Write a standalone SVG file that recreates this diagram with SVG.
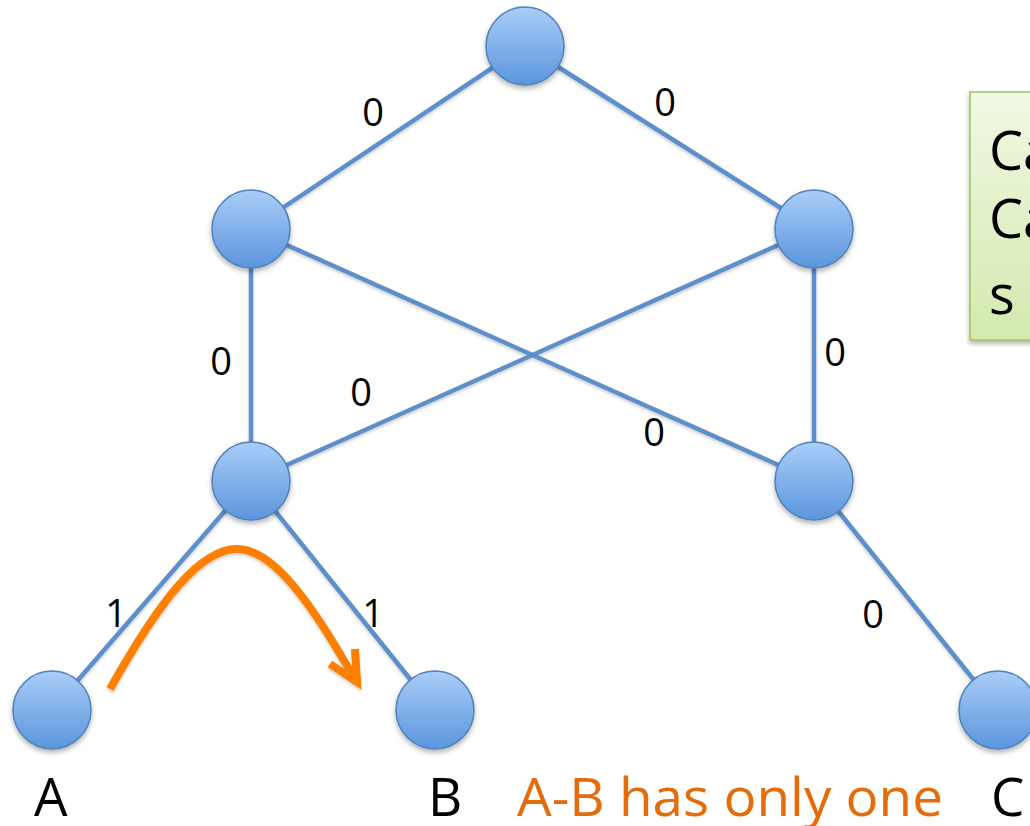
<svg xmlns="http://www.w3.org/2000/svg" width="1030" height="826" viewBox="0 0 1030 826">
<style>
.edge{stroke:#5b8fcb;stroke-width:4.5;fill:none}
.node{fill:url(#ng);stroke:#4f81bd;stroke-width:1.5;filter:url(#sh)}
.lbl{font-family:"Open Sans","Liberation Sans",sans-serif;font-size:38px;fill:#000;text-anchor:middle}
.big{font-family:"Open Sans","Liberation Sans",sans-serif;font-size:53px;fill:#000}
.note{font-family:"Open Sans","Liberation Sans",sans-serif;font-size:54px;fill:#000}
</style>
<defs>
<linearGradient id="ng" x1="0" y1="0" x2="0" y2="1">
<stop offset="0" stop-color="#a9cdf8"/>
<stop offset="1" stop-color="#5b95dc"/>
</linearGradient>
<linearGradient id="gg" x1="0" y1="0" x2="0" y2="1">
<stop offset="0" stop-color="#f1f8e4"/>
<stop offset="1" stop-color="#d3e9ae"/>
</linearGradient>
<filter id="sh" x="-30%" y="-30%" width="160%" height="170%">
<feDropShadow dx="0" dy="3" stdDeviation="2.5" flood-color="#000" flood-opacity="0.3"/>
</filter>
<filter id="ls" x="-10%" y="-10%" width="120%" height="130%">
<feDropShadow dx="0" dy="2" stdDeviation="1.5" flood-color="#000" flood-opacity="0.2"/>
</filter>
</defs>
<g id="note" filter="url(#sh)">
<rect x="970" y="92" width="80" height="248" fill="url(#gg)" stroke="#9fc266" stroke-width="1.5"/>
</g>
<g id="note-text">
<text class="note" x="989" y="170">Ca</text>
<text class="note" x="989" y="238">Ca</text>
<text class="note" x="989" y="314">s</text>
</g>
<g id="connectors" filter="url(#ls)">
<line class="edge" x1="525" y1="46" x2="251" y2="229"/>
<line class="edge" x1="525" y1="46" x2="814" y2="229"/>
<line class="edge" x1="251" y1="229" x2="251" y2="481"/>
<line class="edge" x1="814" y1="229" x2="814" y2="481"/>
<line class="edge" x1="251" y1="229" x2="814" y2="481"/>
<line class="edge" x1="814" y1="229" x2="251" y2="481"/>
<line class="edge" x1="251" y1="481" x2="52" y2="710"/>
<line class="edge" x1="251" y1="481" x2="435" y2="710"/>
<line class="edge" x1="814" y1="481" x2="998" y2="710"/>
</g>
<g id="edge-labels">
<text class="lbl" x="373" y="126">0</text>
<text class="lbl" x="665" y="116">0</text>
<text class="lbl" x="221" y="375">0</text>
<text class="lbl" x="361" y="406">0</text>
<text class="lbl" x="835" y="366">0</text>
<text class="lbl" x="654" y="446">0</text>
<text class="lbl" x="873" y="628">0</text>
<text class="lbl" x="116" y="627">1</text>
<text class="lbl" x="373" y="627">1</text>
</g>
<g id="n-top"><circle class="node" cx="525" cy="46" r="39"/></g>
<g id="n-midleft"><circle class="node" cx="251" cy="229" r="39"/></g>
<g id="n-midright"><circle class="node" cx="814" cy="229" r="39"/></g>
<g id="n-lowleft"><circle class="node" cx="251" cy="481" r="39"/></g>
<g id="n-lowright"><circle class="node" cx="814" cy="481" r="39"/></g>
<g id="n-A"><circle class="node" cx="52" cy="710" r="39"/><text class="big" x="34" y="816">A</text></g>
<g id="n-B"><circle class="node" cx="435" cy="710" r="39"/><text class="big" x="428" y="816">B</text></g>
<g id="n-C"><circle class="node" cx="998" cy="710" r="39"/><text class="big" x="991" y="816">C</text></g>
<g id="path-arrow" filter="url(#ls)" stroke="#ff7f00" stroke-width="8" fill="none" stroke-linecap="butt" stroke-linejoin="miter">
<path d="M110,689 C160,600 200,549 237,549 C272,549 310,600 354,678"/>
<polyline points="330,664 357,682 355,649"/>
</g>
<text x="517" y="816" font-family="Open Sans, Liberation Sans, sans-serif" font-size="53" fill="#e46c0a" textLength="426" lengthAdjust="spacingAndGlyphs">A-B has only one</text>
</svg>
